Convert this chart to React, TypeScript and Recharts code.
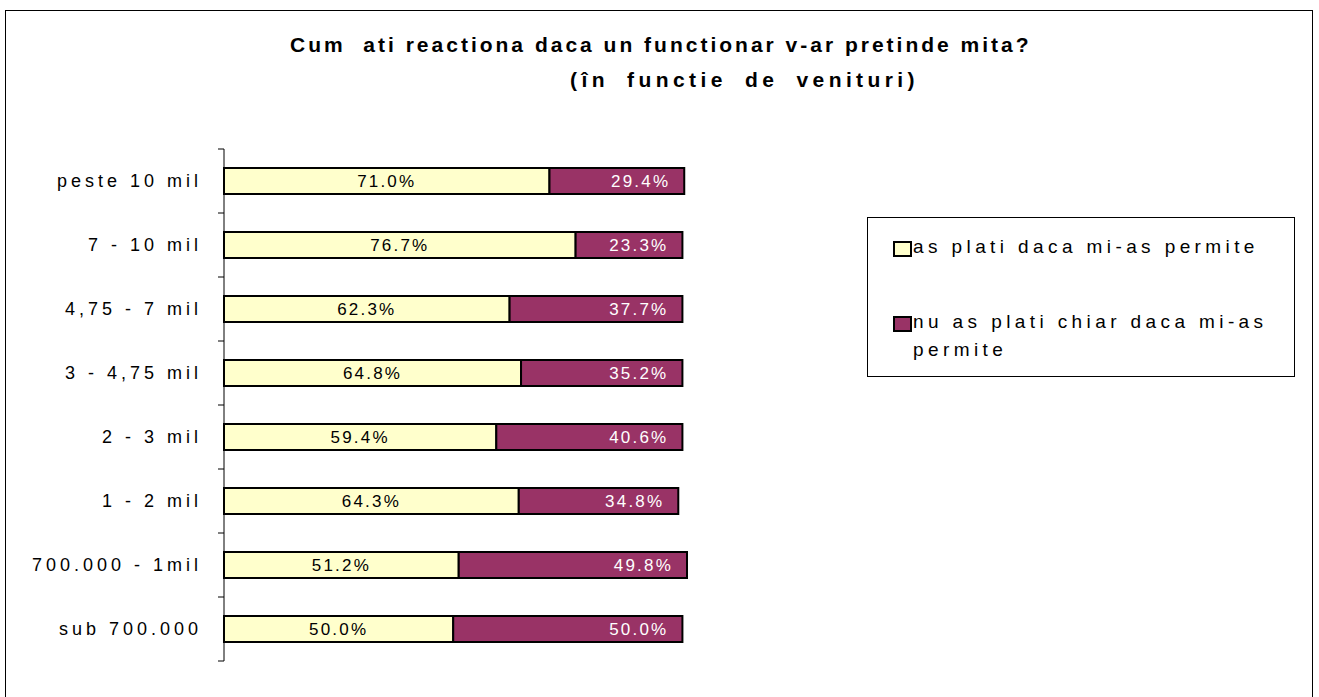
import React from 'react';
import { BarChart, Bar, XAxis, YAxis, LabelList } from 'recharts';

const categories = [
  'peste 10 mil',
  '7 - 10 mil',
  '4,75 - 7 mil',
  '3 - 4,75 mil',
  '2 - 3 mil',
  '1 - 2 mil',
  '700.000 - 1mil',
  'sub 700.000',
];
const wouldPay = [71.0, 76.7, 62.3, 64.8, 59.4, 64.3, 51.2, 50.0];
const wouldNotPay = [29.4, 23.3, 37.7, 35.2, 40.6, 34.8, 49.8, 50.0];

const seriesNames = ['as plati daca mi-as permite', 'nu as plati chiar daca mi-as permite'];

const payColor = '#FFFFCC';
const notPayColor = '#993366';

const W = 1319;
const H = 697;
const MARGIN = { top: 149, right: 632, bottom: 36, left: 0 };
const AXIS_W = 224;
const BAND = (H - MARGIN.top - MARGIN.bottom) / categories.length;

const FONT = '"Liberation Sans", Arial, sans-serif';

const rows = categories.map((name, i) => ({ name, pay: wouldPay[i], notPay: wouldNotPay[i] }));

const pct = (v: any) => `${Number(v).toFixed(1)}%`;

// category label + boundary tick marks (ticks sit between the bars)
const CategoryTick = (props: any) => {
  const { y, payload, index } = props;
  const isLast = index === categories.length - 1;
  return (
    <g>
      <text
        x={AXIS_W - 22}
        y={y}
        dy={6}
        textAnchor="end"
        fontFamily={FONT}
        fontSize={18}
        letterSpacing={4}
        fill="#000"
      >
        {payload.value}
      </text>
      <line x1={AXIS_W - 6} x2={AXIS_W} y1={y - BAND / 2} y2={y - BAND / 2} stroke="#000" />
      {isLast && <line x1={AXIS_W - 6} x2={AXIS_W} y1={y + BAND / 2} y2={y + BAND / 2} stroke="#000" />}
    </g>
  );
};

const LegendBox = () => (
  <div
    style={{
      position: 'absolute',
      left: 867,
      top: 217,
      width: 428,
      height: 160,
      border: '1px solid #000',
      boxSizing: 'border-box',
      padding: '15px 6px 0 25px',
      fontFamily: FONT,
      fontSize: 19,
      letterSpacing: 4.4,
      color: '#000',
      lineHeight: '28px',
    }}
  >
    {seriesNames.map((n, i) => (
      <div key={n} style={{ display: 'flex', alignItems: 'flex-start', marginBottom: i === 0 ? 47 : 0 }}>
        <span
          style={{
            display: 'inline-block',
            width: 15,
            height: 12,
            marginTop: 8,
            border: '2px solid #000',
            background: i === 0 ? payColor : notPayColor,
            flex: '0 0 auto',
          }}
        />
        <span style={{ marginLeft: 1 }}>{n}</span>
      </div>
    ))}
  </div>
);

export default function App() {
  return (
    <div style={{ position: 'absolute', left: 0, top: 0, width: W, height: H, background: '#fff', overflow: 'hidden' }}>
      <div
        style={{
          position: 'absolute',
          left: 5,
          top: 10,
          width: 1308,
          height: 700,
          border: '1px solid #000',
          boxSizing: 'border-box',
        }}
      />
      <div
        style={{
          position: 'absolute',
          left: 290,
          top: 28,
          whiteSpace: 'nowrap',
          fontFamily: FONT,
          fontWeight: 'bold',
          fontSize: 21,
          letterSpacing: 3,
          lineHeight: '34px',
        }}
      >
        Cum&nbsp; ati reactiona daca un functionar v-ar pretinde mita?
      </div>
      <div
        style={{
          position: 'absolute',
          left: 570,
          top: 63,
          whiteSpace: 'nowrap',
          fontFamily: FONT,
          fontWeight: 'bold',
          fontSize: 21,
          letterSpacing: 4.4,
          wordSpacing: 8,
          lineHeight: '34px',
        }}
      >
        (în functie de venituri)
      </div>
      <div style={{ position: 'absolute', left: 0, top: 0 }}>
        <BarChart width={W} height={H} data={rows} layout="vertical" margin={MARGIN} barSize={26}>
          <XAxis type="number" domain={[0, 101]} hide />
          <YAxis
            type="category"
            dataKey="name"
            width={AXIS_W}
            axisLine={{ stroke: '#000', strokeWidth: 1 }}
            tickLine={false}
            tick={<CategoryTick />}
            interval={0}
          />
          <Bar dataKey="pay" stackId="a" fill={payColor} stroke="#000" strokeWidth={2} isAnimationActive={false}>
            <LabelList
              dataKey="pay"
              position="center"
              formatter={pct}
              fill="#000"
              fontFamily={FONT}
              fontSize={17}
              letterSpacing={2.2}
            />
          </Bar>
          <Bar dataKey="notPay" stackId="a" fill={notPayColor} stroke="#000" strokeWidth={2} isAnimationActive={false}>
            <LabelList
              dataKey="notPay"
              position="insideRight"
              offset={14}
              formatter={pct}
              fill="#fff"
              fontFamily={FONT}
              fontSize={17}
              letterSpacing={2.2}
            />
          </Bar>
        </BarChart>
      </div>
      <LegendBox />
    </div>
  );
}
